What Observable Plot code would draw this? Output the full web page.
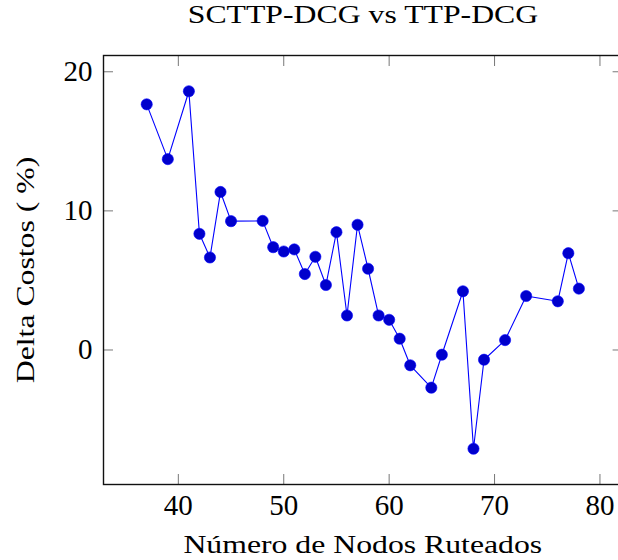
<!DOCTYPE html>
<html>
<head>
<meta charset="utf-8">
<script src="https://cdn.jsdelivr.net/npm/d3@7"></script>
<script src="https://cdn.jsdelivr.net/npm/@observablehq/plot@0.6"></script>
<style>
  html, body { margin: 0; padding: 0; background: #fff; overflow: hidden; }
  #wrap { position: relative; width: 618px; height: 560px; }
  #title {
    height: 40px; line-height: 30px; margin-left: 103px; width: 519px;
    text-align: center; font-family: "Liberation Serif", serif; font-size: 25px; color: #000;
  }
  #title span { display: inline-block; transform: scaleX(1.27); transform-origin: 50% 50%; white-space: nowrap; }
</style>
</head>
<body>
<div id="wrap">
  <div id="title"><span id="titleText"></span></div>
  <div id="chart"></div>
</div>
<script>
const titleText = "SCTTP-DCG vs TTP-DCG";
const xLabel = "Número de Nodos Ruteados";
const yLabel = "Delta Costos ( %)";
const nodos = [37, 39, 41, 42, 43, 44, 45, 48, 49, 50, 51, 52, 53, 54, 55, 56, 57, 58, 59, 60, 61, 62, 64, 65, 67, 68, 69, 71, 73, 76, 77, 78];
const delta = [17.66, 13.72, 18.6, 8.35, 6.65, 11.36, 9.26, 9.28, 7.39, 7.08, 7.23, 5.46, 6.70, 4.67, 8.47, 2.48, 9.0, 5.84, 2.48, 2.17, 0.81, -1.10, -2.71, -0.34, 4.22, -7.10, -0.70, 0.71, 3.88, 3.50, 6.96, 4.41];
const xTicks = [40, 50, 60, 70, 80];
const yTicks = [0, 10, 20];
const xDomain = [32.9, 82.1];
const yDomain = [-9.67, 21.17];

document.getElementById("titleText").textContent = titleText;

const data = nodos.map((n, i) => ({n, d: delta[i]}));

const font = "Liberation Serif";
const tickColor = "#777";
const stretch = 1.27;

const plot = Plot.plot({
  width: 618,
  height: 520,
  marginTop: 15,
  marginBottom: 76,
  marginLeft: 103,
  marginRight: -3.6,
  style: {fontFamily: font, fontSize: "29px", color: "#000", background: "#fff"},
  x: {domain: xDomain, label: null},
  y: {domain: yDomain, label: null},
  marks: [
    Plot.axisX(xTicks, {anchor: "bottom", tickSize: -10, text: null, label: null, stroke: tickColor, strokeWidth: 1}),
    Plot.axisX(xTicks, {anchor: "top", tickSize: -10, text: null, label: null, stroke: tickColor, strokeWidth: 1}),
    Plot.axisY(yTicks, {anchor: "left", tickSize: -10, text: null, label: null, stroke: tickColor, strokeWidth: 1}),
    Plot.axisY(yTicks, {anchor: "right", tickSize: -10, text: null, label: null, stroke: tickColor, strokeWidth: 1}),
    Plot.axisX(xTicks, {anchor: "bottom", tickSize: 0, tickPadding: 10, label: null, fontSize: 29}),
    Plot.axisY(yTicks, {anchor: "left", tickSize: 0, tickPadding: 11, label: null, fontSize: 29}),
    Plot.frame({stroke: "#111", strokeWidth: 1.4}),
    Plot.line(data, {x: "n", y: "d", stroke: "#0000ff", strokeWidth: 1.1}),
    Plot.dot(data, {x: "n", y: "d", r: 5.6, fill: "#0000cc", stroke: "#0000ff", strokeWidth: 0.6}),
    Plot.text([xLabel], {frameAnchor: "bottom", dy: 50.25, lineAnchor: "top", textAnchor: "middle", fontSize: 25, fill: "#000"}),
    Plot.text([yLabel], {frameAnchor: "left", dx: -78, rotate: -90, lineAnchor: "middle", textAnchor: "middle", fontSize: 25, fill: "#000"})
  ]
});
document.getElementById("chart").appendChild(plot);

// stretch the label glyphs along their writing direction (about their centre)
const ns = "http://www.w3.org/2000/svg";
plot.querySelectorAll('g[aria-label="text"] text').forEach((el) => {
  const rotated = /rotate/.test(el.getAttribute("transform") || "") || el.textContent === yLabel;
  const g = document.createElementNS(ns, "g");
  el.parentNode.insertBefore(g, el);
  g.appendChild(el);
  const b = g.getBBox();
  const cx = b.x + b.width / 2, cy = b.y + b.height / 2;
  g.setAttribute("transform", rotated
    ? `translate(0,${cy}) scale(1,${stretch}) translate(0,${-cy})`
    : `translate(${cx},0) scale(${stretch},1) translate(${-cx},0)`);
});
</script>
</body>
</html>
